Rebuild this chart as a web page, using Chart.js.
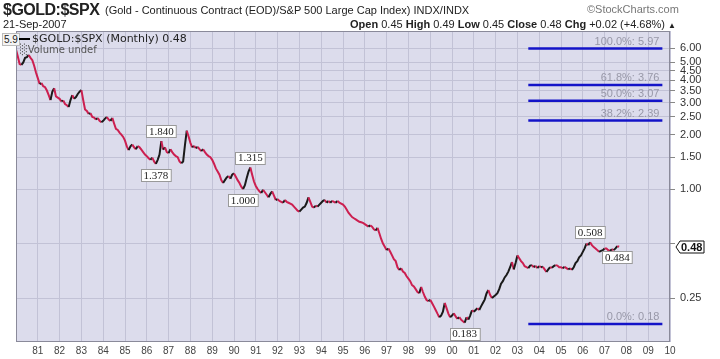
<!DOCTYPE html>
<html>
<head>
<meta charset="utf-8">
<script src="https://cdn.jsdelivr.net/npm/chart.js@4.4.1/dist/chart.umd.min.js"></script>
<style>
  body { margin: 0; background: #fff; }
  #wrap { position: relative; width: 720px; height: 359px; font-family: "Liberation Sans", Arial, sans-serif; }
  #c { position: absolute; left: 0; top: 0; }
  .t { position: absolute; white-space: nowrap; color: #222; }
  .b { font-weight: bold; }
</style>
</head>
<body>
<div id="wrap">
  <canvas id="c" width="720" height="359"></canvas>
  <div class="t b" style="left:3px;top:1px;font-size:16px;letter-spacing:-0.5px;">$GOLD:$SPX</div>
  <div class="t" style="left:105px;top:4px;font-size:11px;">(Gold - Continuous Contract (EOD)/S&amp;P 500 Large Cap Index) INDX/INDX</div>
  <div class="t" style="left:587px;top:3px;font-size:11px;color:#777;">&copy;StockCharts.com</div>
  <div class="t" style="left:3px;top:18px;font-size:11px;">21-Sep-2007</div>
  <div class="t" style="right:44px;top:18px;font-size:11px;"><span class="b">Open</span> 0.45 <span class="b">High</span> 0.49 <span class="b">Low</span> 0.45 <span class="b">Close</span> 0.48 <span class="b">Chg</span> +0.02 (+4.68%) <span style="font-size:8px">&#9650;</span></div>
  <div class="t" style="left:2px;top:33px;font-size:10px;background:#f4f4f4;border:1px solid #bbb;padding:0 1px;line-height:11px;">5.9</div>
  <div class="t" style="left:19px;top:32px;font-size:11px;font-family:'DejaVu Sans',sans-serif;"><span style="display:inline-block;width:11px;height:2px;background:#000;vertical-align:middle;margin-right:2px;"></span>$GOLD:$SPX (Monthly) 0.48</div>
  <div class="t" style="left:20px;top:44px;font-size:10px;color:#555;font-family:'DejaVu Sans',sans-serif;">&#9617;Volume undef</div>
</div>
<script>
// monthly $GOLD:$SPX ratio, Jan 1980 .. Sep 2007
var ratio1980s = [
  5.9, 5.4, 4.9, 4.85, 5.0, 5.3, 5.35, 5.5, 5.3, 5.15, 4.8, 4.4,
  4.1, 3.8, 3.85, 3.7, 3.65, 3.5, 3.3, 3.1, 3.45, 3.6, 3.25, 3.2,
  3.15, 3.05, 3.08, 2.95, 2.9, 2.84, 3.1, 3.3, 3.15, 3.22, 3.35, 3.45,
  3.52, 3.1, 2.75, 2.7, 2.6, 2.62, 2.5, 2.48, 2.42, 2.47, 2.38, 2.34,
  2.38, 2.45, 2.5, 2.42, 2.38, 2.47, 2.3, 2.15, 2.12, 2.05, 2.0, 1.94,
  1.85, 1.72, 1.64, 1.72, 1.76, 1.7, 1.66, 1.73, 1.7, 1.65, 1.6, 1.55,
  1.52, 1.48, 1.45, 1.49, 1.42, 1.378, 1.45, 1.55, 1.84, 1.65, 1.7, 1.6,
  1.58, 1.66, 1.6, 1.55, 1.52, 1.5, 1.42, 1.39, 1.42, 1.75, 2.1, 1.95,
  1.8, 1.7, 1.73, 1.68, 1.71, 1.66, 1.62, 1.66, 1.6, 1.55, 1.52, 1.5,
  1.45, 1.38, 1.3, 1.25, 1.2, 1.12, 1.08, 1.12, 1.16, 1.18, 1.14, 1.2
];
var ratio1990s = [
  1.22, 1.17, 1.12, 1.08, 1.03, 1.0, 1.05, 1.15, 1.25, 1.315, 1.2, 1.1,
  1.04, 1.0, 0.97, 0.95, 0.99, 0.96, 0.93, 0.9, 0.94, 0.97, 0.92, 0.87,
  0.88, 0.86, 0.85, 0.84, 0.87, 0.85, 0.84, 0.83, 0.82, 0.8, 0.78, 0.76,
  0.75, 0.77, 0.79, 0.8, 0.84, 0.9, 0.85, 0.8, 0.79, 0.81, 0.8, 0.82,
  0.84, 0.86, 0.87, 0.84, 0.86, 0.84, 0.86, 0.85, 0.84, 0.86, 0.84, 0.83,
  0.82, 0.8, 0.77, 0.74, 0.72, 0.7, 0.69, 0.68, 0.67, 0.66, 0.655, 0.65,
  0.64, 0.63, 0.62, 0.63, 0.62, 0.6, 0.59, 0.61, 0.57, 0.53, 0.5, 0.48,
  0.46, 0.47, 0.45, 0.43, 0.41, 0.4, 0.37, 0.357, 0.365, 0.35, 0.344, 0.33,
  0.32, 0.31, 0.295, 0.29, 0.28, 0.27, 0.266, 0.288, 0.27, 0.255, 0.244, 0.24,
  0.245, 0.235, 0.225, 0.215, 0.205, 0.196, 0.2, 0.21, 0.235, 0.22, 0.205, 0.196
];
var ratio2000s = [
  0.2, 0.206, 0.198, 0.192, 0.196, 0.19, 0.186, 0.183, 0.196, 0.19, 0.2, 0.214,
  0.21, 0.215, 0.22, 0.215, 0.225, 0.235, 0.245, 0.265, 0.277, 0.26, 0.25, 0.255,
  0.26, 0.266, 0.28, 0.3, 0.31, 0.325, 0.335, 0.35, 0.37, 0.395, 0.36, 0.39,
  0.43, 0.415, 0.4, 0.39, 0.375, 0.37, 0.366, 0.378, 0.38, 0.37, 0.377, 0.366,
  0.375, 0.37, 0.372, 0.36, 0.348, 0.36, 0.37, 0.368, 0.375, 0.38, 0.378, 0.37,
  0.37, 0.365, 0.372, 0.366, 0.36, 0.365, 0.358, 0.37, 0.39, 0.4, 0.42, 0.43,
  0.45, 0.47, 0.5, 0.49, 0.508, 0.49, 0.478, 0.47, 0.46, 0.45, 0.455, 0.46,
  0.47, 0.47, 0.46, 0.455, 0.465, 0.46, 0.47, 0.484, 0.48
];
var startYear = 1980;

var xTickYears = [1981,1982,1983,1984,1985,1986,1987,1988,1989,1990,1991,1992,1993,1994,1995,
                  1996,1997,1998,1999,2000,2001,2002,2003,2004,2005,2006,2007,2008,2009,2010];
var xTickLabels = ['81','82','83','84','85','86','87','88','89','90','91','92','93','94','95',
                   '96','97','98','99','00','01','02','03','04','05','06','07','08','09','10'];
var yTicks = [0.25, 0.5, 1, 1.5, 2, 2.5, 3, 3.5, 4, 4.5, 5, 6];
var yTickLabels = ['0.25', '', '1.00', '1.50', '2.00', '2.50', '3.00', '3.50', '4.00', '4.50', '5.00', '6.00'];

// fibonacci retracement levels
var fibNames = ['100.0%', '61.8%', '50.0%', '38.2%', '0.0%'];
var fibValues = [5.97, 3.76, 3.07, 2.39, 0.18];
var fibFrom = 2003.5, fibTo = 2009.65;

// high / low call-outs
var annoIndex = [80, 77, 129, 125, 247, 316, 331];
var annoText = ['1.840', '1.378', '1.315', '1.000', '0.183', '0.508', '0.484'];
var annoSide = ['up', 'down', 'up', 'down', 'down', 'up', 'down'];

var lastClose = 0.48;

var ratio = ratio1980s.concat(ratio1990s, ratio2000s);
var pts = ratio.map(function(v, i){ return {x: startYear + i / 12, y: v}; });

var datasets = [{
  data: pts,
  borderWidth: 2,
  pointRadius: 0,
  borderColor: '#cc1f50',
  segment: {
    borderColor: function(ctx){ return ctx.p1.parsed.y > ctx.p0.parsed.y ? '#1a1a1a' : '#cc1f50'; }
  }
}];
fibValues.forEach(function(v){
  datasets.push({
    data: [{x: fibFrom, y: v}, {x: fibTo, y: v}],
    borderColor: '#1414c8',
    borderWidth: 2.5,
    pointRadius: 0
  });
});

var bgPlugin = {
  id: 'bg',
  beforeDraw: function(chart){
    var a = chart.chartArea, ctx = chart.ctx;
    ctx.save();
    ctx.fillStyle = '#dcdcec';
    ctx.fillRect(a.left, a.top, a.right - a.left, a.bottom - a.top);
    ctx.restore();
  },
  afterDatasetsDraw: function(chart){
    var a = chart.chartArea, ctx = chart.ctx;
    var xs = chart.scales.x, ys = chart.scales.y;
    ctx.save();
    // fib labels
    ctx.font = '11px "Liberation Sans", Arial';
    ctx.fillStyle = '#9898a8';
    ctx.textAlign = 'right';
    ctx.textBaseline = 'bottom';
    fibValues.forEach(function(v, i){
      ctx.fillText(fibNames[i] + ': ' + v.toFixed(2), xs.getPixelForValue(fibTo) - 3, ys.getPixelForValue(v) - 1);
    });
    // call-out boxes
    ctx.font = '11px "Liberation Serif", serif';
    ctx.textAlign = 'center';
    ctx.textBaseline = 'middle';
    annoIndex.forEach(function(idx, i){
      var px = xs.getPixelForValue(pts[idx].x), py = ys.getPixelForValue(pts[idx].y);
      var cy = annoSide[i] === 'up' ? py - 10 : py + 11;
      var w = ctx.measureText(annoText[i]).width + 5;
      ctx.fillStyle = '#fff';
      ctx.strokeStyle = '#999';
      ctx.lineWidth = 1;
      ctx.fillRect(Math.round(px - w / 2) + 0.5, Math.round(cy - 6) + 0.5, w, 12);
      ctx.strokeRect(Math.round(px - w / 2) + 0.5, Math.round(cy - 6) + 0.5, w, 12);
      ctx.fillStyle = '#222';
      ctx.fillText(annoText[i], px, cy + 1);
    });
    // plot border
    ctx.strokeStyle = '#8a8a9a';
    ctx.lineWidth = 1;
    ctx.strokeRect(a.left + 0.5, a.top + 0.5, a.right - a.left - 1, a.bottom - a.top - 1);
    // last value box on right axis
    var ly = Math.round(ys.getPixelForValue(lastClose));
    var bx = a.right + 10;
    ctx.beginPath();
    ctx.moveTo(bx - 4, ly);
    ctx.lineTo(bx, ly - 6);
    ctx.lineTo(bx + 24, ly - 6);
    ctx.lineTo(bx + 24, ly + 6);
    ctx.lineTo(bx, ly + 6);
    ctx.closePath();
    ctx.fillStyle = '#fff';
    ctx.fill();
    ctx.strokeStyle = '#111';
    ctx.stroke();
    ctx.font = 'bold 11px "Liberation Sans", Arial';
    ctx.fillStyle = '#111';
    ctx.textAlign = 'left';
    ctx.fillText(lastClose.toFixed(2), bx + 1, ly + 1);
    ctx.restore();
  }
};

new Chart(document.getElementById('c'), {
  type: 'line',
  data: { datasets: datasets },
  plugins: [bgPlugin],
  options: {
    responsive: false,
    animation: false,
    layout: { padding: { top: 31, left: 16, right: 0, bottom: 0 } },
    plugins: { legend: { display: false }, tooltip: { enabled: false } },
    scales: {
      x: {
        type: 'linear',
        min: 1980, max: 2010,
        afterBuildTicks: function(s){ s.ticks = xTickYears.map(function(v){ return {value: v}; }); },
        afterFit: function(s){ s.height = 17; },
        grid: { color: '#c2c2d6', drawTicks: false },
        border: { display: false },
        ticks: {
          autoSkip: false, maxRotation: 0, padding: 3,
          color: '#444', font: { size: 10, family: '"Liberation Sans", Arial' },
          callback: function(v){ var i = xTickYears.indexOf(v); return i < 0 ? '' : xTickLabels[i]; }
        }
      },
      y: {
        type: 'logarithmic',
        position: 'right',
        min: 0.143, max: 7.46,
        afterBuildTicks: function(s){ s.ticks = yTicks.map(function(v){ return {value: v}; }); },
        afterFit: function(s){ s.width = 50; },
        grid: { color: '#c2c2d6', tickLength: 5, tickColor: '#888' },
        border: { display: false },
        ticks: {
          autoSkip: false, padding: 5,
          color: '#333', font: { size: 11, family: '"Liberation Sans", Arial' },
          callback: function(v){ var i = yTicks.indexOf(v); return i < 0 ? '' : yTickLabels[i]; }
        }
      }
    }
  }
});
</script>
</body>
</html>
